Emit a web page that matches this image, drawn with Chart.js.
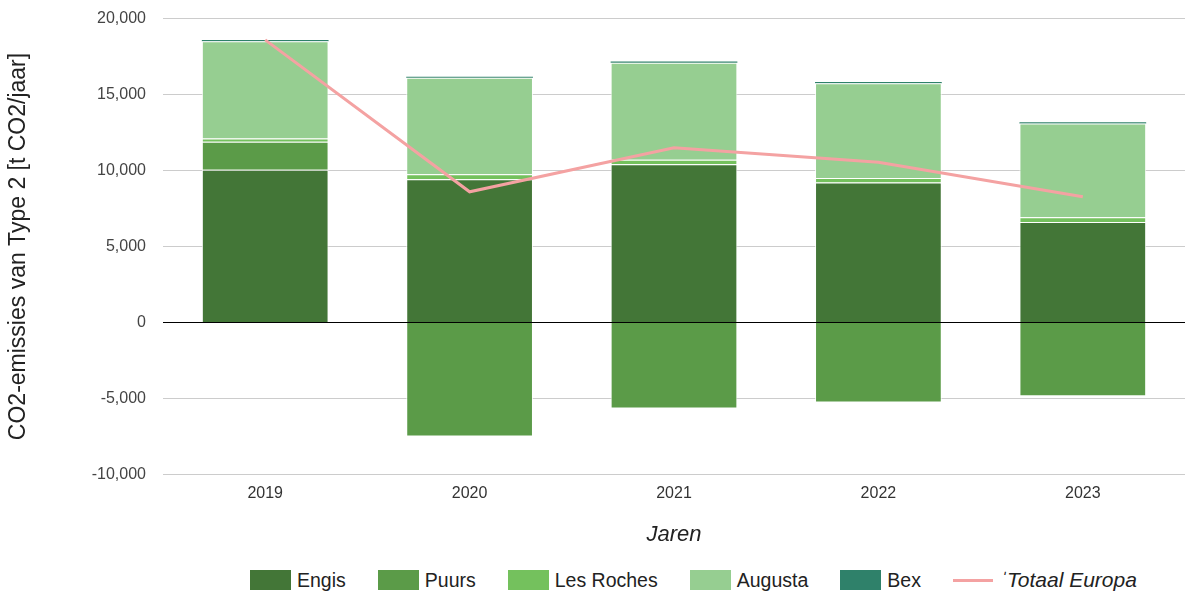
<!DOCTYPE html>
<html>
<head>
<meta charset="utf-8">
<script src="https://cdn.jsdelivr.net/npm/chart.js@4.4.1/dist/chart.umd.min.js"></script>
<style>
  html, body { margin: 0; padding: 0; background: #fff; }
  #wrap { position: relative; width: 1185px; height: 594px; overflow: hidden; }
  #chartBox { position: absolute; left: 0; top: -8px; width: 1185px; height: 568px; }
  #legend {
    position: absolute; left: 250px; top: 569px; height: 22px;
    display: flex; align-items: center; gap: 32px;
    font-family: "Liberation Sans", Arial, sans-serif; font-size: 19.5px; color: #222;
  }
  .item { display: flex; align-items: center; }
  .box { width: 41px; height: 20px; margin-right: 6px; }
  .line { width: 40px; height: 3px; margin-right: 7px; }
</style>
</head>
<body>
<div id="wrap">
  <div id="chartBox"><canvas id="co2Chart"></canvas></div>
  <div id="legend"></div>
</div>
<script>
// Chart data
const years = ['2019', '2020', '2021', '2022', '2023'];
const engis = [10050, 9430, 10410, 9210, 6620];
const puurs = [1840, -7500, -5660, -5260, -4850];
const lesRoches = [220, 320, 300, 300, 300];
const augusta = [6400, 6350, 6380, 6240, 6170];
const bex = [80, 80, 80, 80, 80];
const totaalEuropa = [18600, 8600, 11500, 10550, 8280];
const yTicks = [-10000, -5000, 0, 5000, 10000, 15000, 20000];

const colors = {
    engis: '#437637',
    puurs: '#5b9b48',
    lesRoches: '#74c15d',
    augusta: '#96ce91',
    bex: '#2f816a',
    totaal: '#f4a2a2'
};

const fontFamily = '"Liberation Sans", Arial, sans-serif';

function barSet(label, data, color) {
    return {
        type: 'bar',
        label: label,
        data: data,
        backgroundColor: color,
        borderColor: 'rgba(255,255,255,0.85)',
        borderWidth: 1,
        stack: 'sites',
        order: 1
    };
}

const ctx = document.getElementById('co2Chart');
new Chart(ctx, {
    data: {
        labels: years,
        datasets: [
            barSet('Engis', engis, colors.engis),
            barSet('Puurs', puurs, colors.puurs),
            barSet('Les Roches', lesRoches, colors.lesRoches),
            barSet('Augusta', augusta, colors.augusta),
            Object.assign(barSet('Bex', bex, colors.bex), { borderWidth: 0 }),
            {
                type: 'line',
                label: 'Totaal Europa',
                data: totaalEuropa,
                borderColor: colors.totaal,
                borderWidth: 3,
                pointRadius: 0,
                tension: 0,
                stack: 'total',
                order: 0
            }
        ]
    },
    options: {
        responsive: true,
        maintainAspectRatio: false,
        animation: false,
        layout: { padding: { top: 4, right: 0, bottom: 12, left: 0 } },
        datasets: {
            bar: { categoryPercentage: 1, barPercentage: 0.62 }
        },
        plugins: {
            legend: { display: false },
            tooltip: { enabled: false }
        },
        scales: {
            x: {
                stacked: true,
                grid: { display: false },
                border: { display: false },
                ticks: {
                    color: '#333',
                    padding: 2,
                    font: { family: fontFamily, size: 16 }
                },
                title: {
                    display: true,
                    text: 'Jaren',
                    color: '#222',
                    padding: { top: 16, bottom: 0 },
                    font: { family: fontFamily, size: 22, style: 'italic' }
                }
            },
            y: {
                stacked: true,
                min: -10000,
                max: 20000,
                afterBuildTicks: function(scale) {
                    scale.ticks = yTicks.map(v => ({ value: v }));
                },
                afterFit: function(scale) {
                    scale.width = 163;
                },
                grid: {
                    drawTicks: false,
                    color: function(c) {
                        return c.tick && c.tick.value === 0 ? '#000' : '#cccccc';
                    },
                    lineWidth: 1
                },
                border: { display: false },
                ticks: {
                    color: '#444',
                    padding: 17,
                    font: { family: fontFamily, size: 16 },
                    callback: function(v) {
                        return Number(v).toLocaleString('en-US');
                    }
                },
                title: {
                    display: true,
                    text: 'CO2-emissies van Type 2 [t CO2/jaar]',
                    color: '#222',
                    padding: { top: 5, bottom: 0 },
                    font: { family: fontFamily, size: 23 }
                }
            }
        }
    }
});

// HTML legend so the line entry can be italic like the original
const legendItems = [
    { label: 'Engis', color: colors.engis, kind: 'box' },
    { label: 'Puurs', color: colors.puurs, kind: 'box' },
    { label: 'Les Roches', color: colors.lesRoches, kind: 'box' },
    { label: 'Augusta', color: colors.augusta, kind: 'box' },
    { label: 'Bex', color: colors.bex, kind: 'box' },
    { label: 'ˈTotaal Europa', color: colors.totaal, kind: 'line' }
];
const legendEl = document.getElementById('legend');
legendItems.forEach(item => {
    const el = document.createElement('div');
    el.className = 'item';
    const mark = document.createElement('span');
    mark.className = item.kind;
    mark.style.background = item.color;
    const txt = document.createElement('span');
    txt.textContent = item.label;
    if (item.kind === 'line') {
        txt.style.fontStyle = 'italic';
        txt.style.fontSize = '21px';
    }
    el.appendChild(mark);
    el.appendChild(txt);
    legendEl.appendChild(el);
});
</script>
</body>
</html>
